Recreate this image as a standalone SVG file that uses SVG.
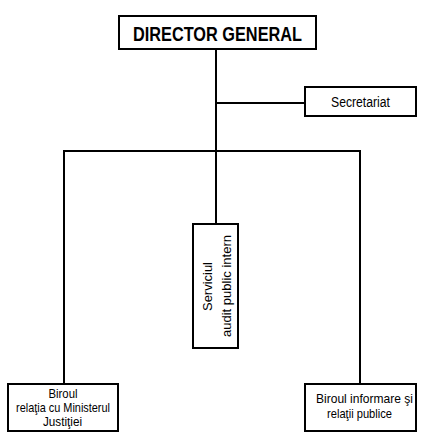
<svg xmlns="http://www.w3.org/2000/svg" width="444" height="445" viewBox="0 0 444 445">
<style>
.box{fill:#fff;stroke:#000;stroke-width:2}
.ln{stroke:#000;stroke-width:2;fill:none}
text{font-family:"Liberation Sans",Arial,sans-serif;fill:#000;text-anchor:middle}
.t{font-size:13.5px}
</style>
<rect width="444" height="445" fill="#fff"/>
<g id="connectors">
<line class="ln" x1="216" y1="49" x2="216" y2="224"/>
<line class="ln" x1="216" y1="103" x2="305" y2="103"/>
<line class="ln" x1="63" y1="151" x2="361" y2="151"/>
<line class="ln" x1="64" y1="150" x2="64" y2="384"/>
<line class="ln" x1="360" y1="150" x2="360" y2="384"/>
</g>
<g id="director">
<rect class="box" x="119" y="16" width="197" height="33"/>
<text x="217.5" y="41" style="font-size:20px;font-weight:bold" textLength="169" lengthAdjust="spacingAndGlyphs">DIRECTOR GENERAL</text>
</g>
<g id="secretariat">
<rect class="box" x="305" y="87" width="111" height="29"/>
<text x="360.5" y="107" style="font-size:14px" textLength="59" lengthAdjust="spacingAndGlyphs">Secretariat</text>
</g>
<g id="audit">
<rect class="box" x="193" y="224" width="45" height="124"/>
<text class="t" transform="translate(212,286.5) rotate(-90)" textLength="49" lengthAdjust="spacingAndGlyphs">Serviciul</text>
<text class="t" transform="translate(231,286) rotate(-90)" textLength="102" lengthAdjust="spacingAndGlyphs">audit public intern</text>
</g>
<g id="justitie">
<rect class="box" x="8" y="384" width="110" height="47"/>
<text class="t" x="63" y="397.5" textLength="29" lengthAdjust="spacingAndGlyphs">Biroul</text>
<text class="t" x="63" y="412" textLength="94" lengthAdjust="spacingAndGlyphs">relaţia cu Ministerul</text>
<text class="t" x="62.5" y="425.5" textLength="39" lengthAdjust="spacingAndGlyphs">Justiţiei</text>
</g>
<g id="informare">
<rect class="box" x="305" y="384" width="111" height="47"/>
<text class="t" x="364.5" y="403" textLength="97" lengthAdjust="spacingAndGlyphs">Biroul informare şi</text>
<text class="t" x="359.5" y="418" textLength="65" lengthAdjust="spacingAndGlyphs">relaţii publice</text>
</g>
</svg>
